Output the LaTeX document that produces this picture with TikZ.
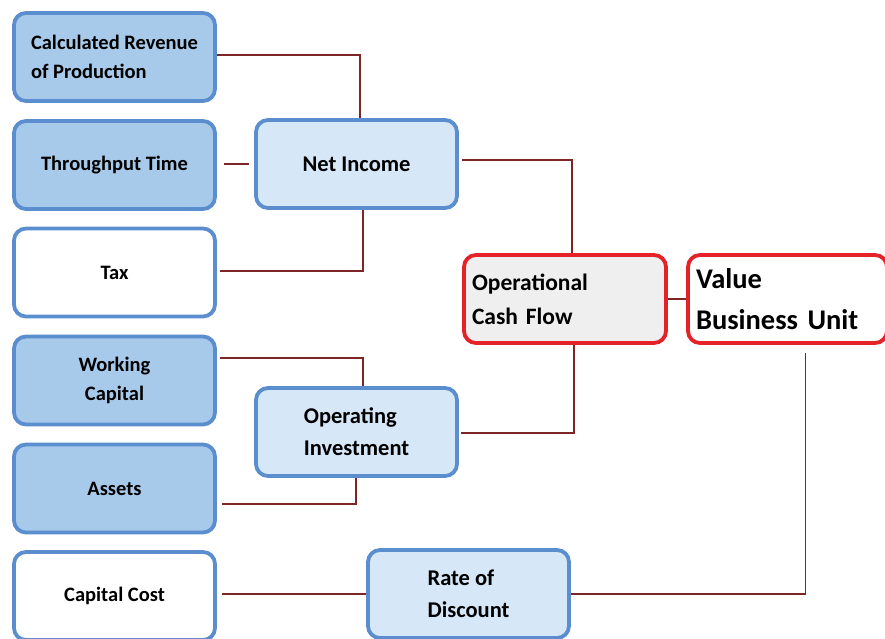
\documentclass[tikz,border=0pt]{standalone}
\usepackage{fontspec}
\setmainfont{Carlito}
\definecolor{bordblue}{HTML}{5B8ECF}
\definecolor{midblue}{HTML}{A8CAEA}
\definecolor{liteblue}{HTML}{D6E7F7}
\definecolor{bordred}{HTML}{E52228}
\definecolor{ocfgray}{HTML}{EFEFEF}
\definecolor{linkred}{HTML}{7E2626}
\begin{document}
\begin{tikzpicture}[x=1pt,y=-1pt,
  box/.style={draw=bordblue,line width=3.8pt,rounded corners=12pt,minimum width=201pt,minimum height=88pt,inner sep=0pt,font=\bfseries\fontsize{20.5}{29}\selectfont,align=center},
  leftbox/.style={box,fill=midblue},
  whitebox/.style={box,fill=white},
  midbox/.style={box,fill=liteblue,font=\bfseries\fontsize{22.5}{32}\selectfont},
  redbox/.style={box,draw=bordred},
  link/.style={draw=linkred,line width=1.5pt}]
\useasboundingbox (0,0) rectangle (885,638);
% left column
\node[leftbox,align=left] (crp) at (114.5,57) {Calculated Revenue\\of Production};
\node[leftbox] (tt) at (114.5,165) {Throughput Time};
\node[whitebox] (tax) at (114.5,272.5) {Tax};
\node[leftbox] (wc) at (114.5,380.5) {Working\\Capital};
\node[leftbox] (as) at (114.5,488.5) {Assets};
\node[whitebox] (cc) at (114.5,596) {Capital Cost};
% middle
\node[midbox] (ni) at (356.5,164) {Net Income};
\node[midbox,align=left] (oi) at (356.5,432) {Operating\\Investment};
\node[midbox,align=left] (rd) at (468.5,594) {Rate of\\Discount};
% right
\node[redbox,fill=ocfgray,align=left,text width=186pt,inner xsep=8pt,font=\bfseries\fontsize{23.5}{34}\selectfont] (ocf) at (565,299) {Operational\\Cash Flow};
\node[redbox,fill=white,align=left,text width=183pt,inner xsep=8pt,minimum width=195pt,font=\bfseries\fontsize{28.5}{41}\selectfont] (vbu) at (787.5,299) {Value\\Business Unit};
% connectors
\coordinate (c1) at (360,55);
\draw[link] (crp.east |- c1) -- (c1) -- (c1 |- ni.north);
\draw[link,shorten <=7pt,shorten >=5pt] (tt.east |- ni) -- (ni.west);
\coordinate (c2) at (363,271);
\draw[link,shorten <=3pt] (tax.east |- c2) -- (c2) -- (c2 |- ni.south);
\coordinate (c3) at (572,160);
\draw[link,shorten <=3pt] (ni.east |- c3) -- (c3) -- (c3 |- ocf.north);
\coordinate (c4) at (363,358);
\draw[link,shorten <=3pt] (wc.east |- c4) -- (c4) -- (c4 |- oi.north);
\coordinate (c5) at (356,504);
\draw[link,shorten <=5pt] (as.east |- c5) -- (c5) -- (c5 |- oi.south);
\coordinate (c6) at (574,433);
\draw[link,shorten <=2pt] (oi.east |- c6) -- (c6) -- (c6 |- ocf.south);
\draw[link] (ocf.east) -- (vbu.west);
\draw[link,shorten <=5pt] (cc.east |- rd) -- (rd.west);
\coordinate (c7) at (805.5,594);
\draw[link,shorten >=8pt] (rd.east) -- (c7) -- (c7 |- vbu.south);
\end{tikzpicture}
\end{document}
